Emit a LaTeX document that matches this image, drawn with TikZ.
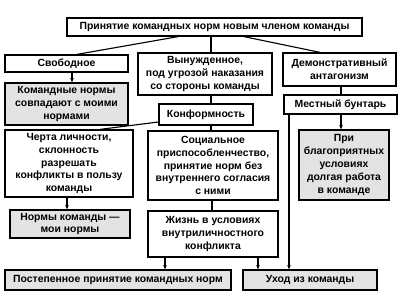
\documentclass[tikz,border=0pt]{standalone}
\usepackage{fontspec}
\setmainfont{Liberation Sans}
\usetikzlibrary{arrows.meta,calc}
\tikzset{
  blk/.style={draw, line width=0.9pt, fill=white, inner sep=0pt, align=center,
    font=\bfseries\fontsize{7.4}{9.1}\selectfont},
  shaded/.style={blk, fill=black!11},
  link/.style={line width=0.8pt},
  arr/.style={link, -{Stealth[length=3.2pt,width=2.6pt]}}
}
\begin{document}
\begin{tikzpicture}[x=0.025cm,y=-0.025cm]
\useasboundingbox (0,0) rectangle (408,304);

\node[blk, minimum width=7.375cm, minimum height=0.45cm] (top) at (214.5,27) {Принятие командных норм новым членом команды};
\node[blk, minimum width=3.075cm, minimum height=0.425cm] (svob) at (66.5,63.5) {Свободное};
\node[blk, minimum width=3.35cm, minimum height=1.05cm] (vyn) at (205,74) {Вынужденное,\\под угрозой наказания\\со стороны команды};
\node[blk, minimum width=2.825cm, minimum height=0.825cm] (demo) at (339.5,69.5) {Демонстративный\\антагонизм};
\node[shaded, minimum width=3.075cm, minimum height=1.05cm] (sovp) at (66.5,104) {Командные нормы\\совпадают с моими\\нормами};
\node[blk, minimum width=2.825cm, minimum height=0.475cm] (bunt) at (340.5,104.5) {Местный бунтарь};
\node[blk, minimum width=2.35cm, minimum height=0.525cm] (konf) at (206,114.5) {Конформность};
\node[blk, minimum width=3.2cm, minimum height=1.675cm] (cherta) at (69,163.5) {Черта личности,\\склонность\\разрешать\\конфликты в пользу\\команды};
\node[blk, minimum width=3.25cm, minimum height=1.725cm] (soc) at (213,165.5) {Социальное\\приспособленчество,\\принятие норм без\\внутреннего согласия\\с ними};
\node[shaded, minimum width=2.25cm, minimum height=1.75cm] (pri) at (344,165) {При\\благоприятных\\условиях\\долгая работа\\в команде};
\node[shaded, minimum width=3.0cm, minimum height=0.7cm] (moi) at (70,224) {Нормы команды ---\\мои нормы};
\node[blk, minimum width=3.25cm, minimum height=1.15cm] (zhizn) at (213,234) {Жизнь в условиях\\внутриличностного\\конфликта};
\node[shaded, minimum width=5.65cm, minimum height=0.5cm] (postep) at (118,280) {Постепенное принятие командных норм};
\node[shaded, minimum width=3.35cm, minimum height=0.5cm] (ukhod) at (310,280) {Уход из команды};

% top level
\draw[link] ($(top.south)+(-36.5,0)$) -- ($(svob.north)+(10.5,0)$);
\draw[link] (top.south -| 211,0) -- (vyn.north -| 211,0);
\draw[link] ($(top.south)+(29.5,0)$) -- ($(demo.north)+(-19.5,0)$);

\draw[arr] (svob.south -| 72,0) -- (sovp.north -| 72,0);
\draw[link] (vyn.south -| 211,0) -- (konf.north -| 211,0);
\draw[link] (demo.south -| 341,0) -- (bunt.north -| 341,0);

\draw[link] ($(konf.west)+(0,7.5)$) -- ($(cherta.north)+(31,0)$);
\draw[link] (konf.south -| 211,0) -- (soc.north -| 211,0);
\draw[arr] (bunt.south -| 341,0) -- (pri.north -| 341,0);
\draw[arr] (bunt.south -| 289,0) -- (ukhod.north -| 289,0);

\draw[arr] (cherta.south -| 67,0) -- (moi.north -| 67,0);
\draw[link] (soc.south -| 212,0) -- (zhizn.north -| 212,0);
\draw[arr] (zhizn.south -| 165,0) -- (postep.north -| 165,0);
\draw[arr] (zhizn.south -| 258,0) -- (ukhod.north -| 258,0);
\end{tikzpicture}
\end{document}
